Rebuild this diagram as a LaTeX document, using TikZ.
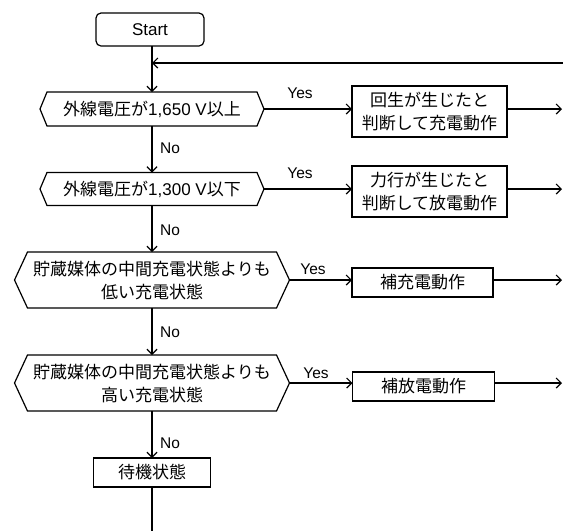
\documentclass[tikz,border=0pt]{standalone}
\usepackage{fontspec}
\setmainfont{Liberation Sans}
\newfontfamily\jp{Noto Sans CJK JP}
\usetikzlibrary{arrows.meta,calc}
\newcommand\hexdraw[2]{\draw (#1.west) -- ($(#1.north west)+(#2,0)$) -- ($(#1.north east)+(-#2,0)$) -- (#1.east) -- ($(#1.south east)+(-#2,0)$) -- ($(#1.south west)+(#2,0)$) -- cycle;}
\begin{document}
\begin{tikzpicture}[x=1pt,y=-1pt,line width=1.2pt,
  >={Straight Barb[length=5pt,width=10pt]},
  base/.style={inner sep=0pt,outer sep=0pt,align=center,font=\fontsize{17}{23}\selectfont},
  startbox/.style={base,draw,rounded corners=5pt},
  procbox/.style={base,draw},
  hexnode/.style={base},
  lbl/.style={inner sep=0pt,font=\fontsize{15.5}{18}\selectfont}]
\useasboundingbox (0,0) rectangle (563,531);

% nodes
\node[startbox,minimum width=108pt,minimum height=33pt] (start) at (150,29.5) {Start};
\node[hexnode,minimum width=224pt,minimum height=34pt] (d1) at (152,109) {{\jp 外線電圧が}1,650 V{\jp 以上}};
\node[procbox,minimum width=155pt,minimum height=51pt] (b1) at (429.5,111.5) {\jp 回生が生じたと\\\jp 判断して充電動作};
\node[hexnode,minimum width=224pt,minimum height=33pt] (d2) at (152,189) {{\jp 外線電圧が}1,300 V{\jp 以下}};
\node[procbox,minimum width=155pt,minimum height=51pt] (b2) at (429.5,191.5) {\jp 力行が生じたと\\\jp 判断して放電動作};
\node[hexnode,minimum width=275pt,minimum height=56pt] (d3) at (152,280) {\jp 貯蔵媒体の中間充電状態よりも\\\jp 低い充電状態};
\node[procbox,minimum width=141pt,minimum height=29pt] (b3) at (422.5,282.5) {\jp 補充電動作};
\node[hexnode,minimum width=275pt,minimum height=56pt] (d4) at (152,383) {\jp 貯蔵媒体の中間充電状態よりも\\\jp 高い充電状態};
\node[procbox,minimum width=142pt,minimum height=29pt] (b4) at (423.5,386.5) {\jp 補放電動作};
\node[procbox,minimum width=117pt,minimum height=29pt] (w) at (152,472.5) {\jp 待機状態};

\hexdraw{d1}{7}
\hexdraw{d2}{7}
\hexdraw{d3}{13}
\hexdraw{d4}{13}

% coordinates
\coordinate (fb) at (563,63);
\coordinate (m) at (152,63);
\coordinate (o1) at (562,109);
\coordinate (o2) at (562,189);
\coordinate (o3) at (562,280);
\coordinate (o4) at (562,383);
\coordinate (end) at (152,531);

% main column
\draw[->] (start.south -| d1.north) -- (d1.north);
\draw[->] (fb) -- (m);
\draw[->] (d1.south) -- (d2.north);
\draw[->] (d2.south) -- (d3.north);
\draw[->] (d3.south) -- (d4.north);
\draw[->] (d4.south) -- (w.north);
\draw (w.south) -- (end);

% yes branches
\draw[->] (d1.east) -- (d1.east -| b1.west);
\draw[->] (d2.east) -- (d2.east -| b2.west);
\draw[->] (d3.east) -- (d3.east -| b3.west);
\draw[->] (d4.east) -- (d4.east -| b4.west);
\draw[->] (b1.east |- o1) -- (o1);
\draw[->] (b2.east |- o2) -- (o2);
\draw[->] (b3.east |- o3) -- (o3);
\draw[->] (b4.east |- o4) -- (o4);

% labels
\node[lbl] (y1) at (300,93) {Yes};
\node[lbl] (y2) at (300,173) {Yes};
\node[lbl] (y3) at (313,269) {Yes};
\node[lbl] (y4) at (316,373) {Yes};
\node[lbl] (n1) at (170,148) {No};
\node[lbl] (n2) at (170,230) {No};
\node[lbl] (n3) at (170,332) {No};
\node[lbl] (n4) at (170,443) {No};
\end{tikzpicture}
\end{document}
